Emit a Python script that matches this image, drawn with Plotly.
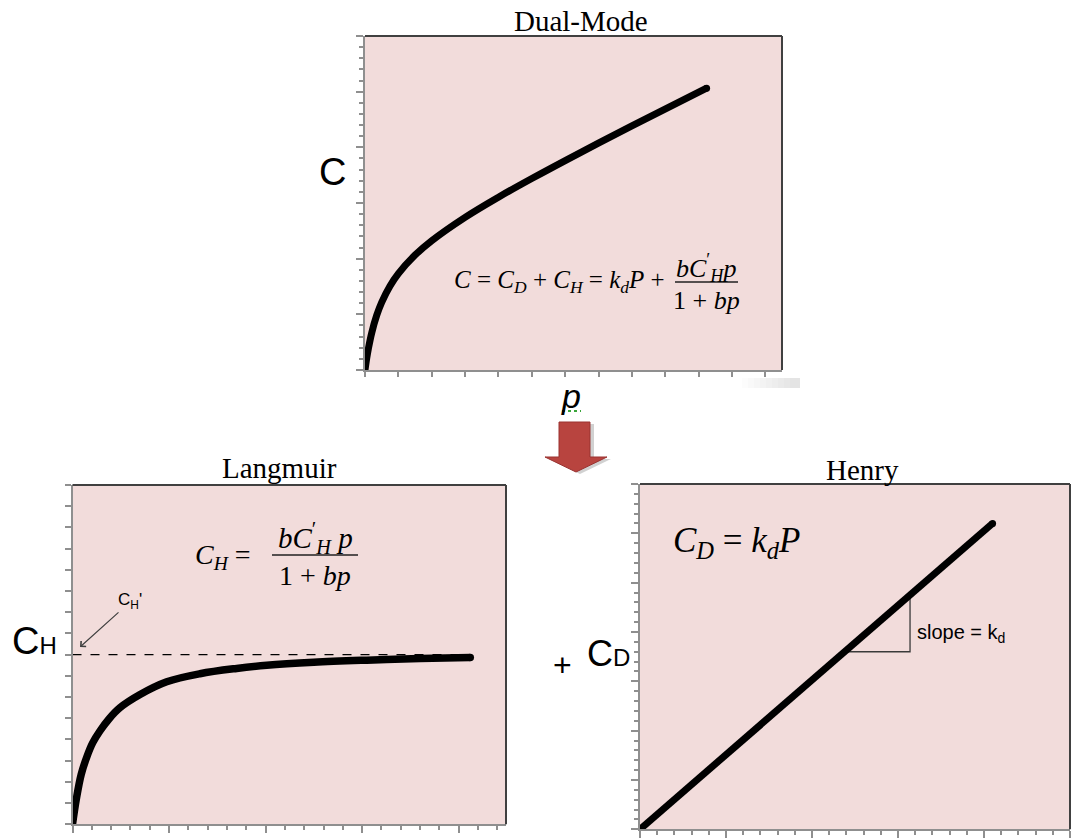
import plotly.graph_objects as go

# ---- data -------------------------------------------------------------
# Dual-mode sorption isotherm (C vs p)
dual_p = [0.0, 0.05, 0.1, 0.2, 0.35, 0.5, 0.75, 1.0, 1.5, 2.0, 3.0, 4.0, 5.0, 6.5, 8.0, 10.24]
dual_c = [0.0, 1.03, 1.9, 3.32, 4.9, 6.08, 7.55, 8.66, 10.32, 11.61, 13.71, 15.52, 17.2, 19.6, 21.92, 25.31]

# Langmuir contribution (C_H vs p) and its saturation capacity C_H'
lang_p = [0.0, 0.2, 0.45, 0.75, 1.05, 1.42, 1.9, 2.46, 3.5, 4.88, 6.6, 8.5, 10.06, 12.5, 15.24, 18.0, 20.6]
lang_c = [0.0, 1.2, 2.35, 3.2, 3.85, 4.4, 4.98, 5.5, 6.12, 6.72, 7.1, 7.35, 7.5, 7.64, 7.74, 7.82, 7.87]
ch_sat = 8.0

# Henry contribution (C_D vs p), straight line through the origin
henry_p = [0.0, 20.5]
henry_c = [0.0, 31.0]
slope_run = [11.9, 15.7]  # horizontal leg of the slope triangle

W, H = 1073, 838
BG = "#f2dcdb"
AXIS_GRAY = "#8f8f8f"
BORDER = "#404040"
SERIF = "Liberation Serif"
SANS = "Liberation Sans"


def px(x):
    return x / W


def py(y):
    return 1 - y / H


def axis(domain, rng, dtick, ticklen, anchor, minor_dtick=None, minor_len=4):
    d = dict(domain=domain, range=rng, showgrid=False, zeroline=False,
             showticklabels=False, showline=True, linecolor=AXIS_GRAY,
             linewidth=2, ticks="outside", tickcolor=AXIS_GRAY, tickwidth=1.5,
             ticklen=ticklen, tick0=0, dtick=dtick, anchor=anchor,
             fixedrange=True)
    if minor_dtick:
        d["minor"] = dict(dtick=minor_dtick, ticklen=minor_len, ticks="outside",
                          tickcolor=AXIS_GRAY, tickwidth=1.5, showgrid=False)
    return d


fig = go.Figure()

# ---- curves -----------------------------------------------------------
fig.add_trace(go.Scatter(x=dual_p, y=dual_c, mode="lines", xaxis="x", yaxis="y",
                         line=dict(color="black", width=7, shape="spline", smoothing=1.0)))
fig.add_trace(go.Scatter(x=dual_p[-1:], y=dual_c[-1:], mode="markers", xaxis="x", yaxis="y",
                         marker=dict(color="black", size=7)))

fig.add_trace(go.Scatter(x=[0, lang_p[-1]], y=[ch_sat, ch_sat], mode="lines",
                         xaxis="x2", yaxis="y2",
                         line=dict(color="black", width=1.3, dash="dash")))
fig.add_trace(go.Scatter(x=lang_p, y=lang_c, mode="lines", xaxis="x2", yaxis="y2",
                         line=dict(color="black", width=7.5, shape="spline", smoothing=1.0)))
fig.add_trace(go.Scatter(x=lang_p[-1:], y=lang_c[-1:], mode="markers", xaxis="x2", yaxis="y2",
                         marker=dict(color="black", size=7.5)))

kd = henry_c[-1] / henry_p[-1]
fig.add_trace(go.Scatter(x=[slope_run[0], slope_run[1], slope_run[1]],
                         y=[kd * slope_run[0], kd * slope_run[0], kd * slope_run[1]],
                         mode="lines", xaxis="x3", yaxis="y3",
                         line=dict(color="#3a3a3a", width=1.3)))
fig.add_trace(go.Scatter(x=henry_p, y=henry_c, mode="lines", xaxis="x3", yaxis="y3",
                         line=dict(color="black", width=7)))
fig.add_trace(go.Scatter(x=henry_p[-1:], y=henry_c[-1:], mode="markers", xaxis="x3", yaxis="y3",
                         marker=dict(color="black", size=7)))

fig.update_traces(hoverinfo="skip", showlegend=False)

# ---- axes -------------------------------------------------------------
fig.update_layout(
    xaxis=axis([px(365), px(782)], [0, 12.5], 1, 5, "y"),
    yaxis=axis([py(370), py(36)], [0, 30], 5, 7, "x", 1, 4),
    xaxis2=axis([px(72.5), px(506)], [0, 22.45], 5, 7, "y2", 1, 4),
    yaxis2=axis([py(824.3), py(485)], [0, 16], 1, 6, "x2"),
    xaxis3=axis([px(640), px(1070)], [0, 25], 5, 7, "y3", 1, 4),
    yaxis3=axis([py(829.3), py(484)], [0, 35], 5, 7, "x3", 1, 4),
)

shapes = []
# dark top/right frame of each plotting area
for xs, ys in (("x", "y"), ("x2", "y2"), ("x3", "y3")):
    for (x0, y0, x1, y1) in ((0, 1, 1, 1), (1, 1, 1, 0)):
        shapes.append(dict(type="line", xref=f"{xs} domain", yref=f"{ys} domain",
                           x0=x0, y0=y0, x1=x1, y1=y1,
                           line=dict(color=BORDER, width=2)))

# fraction bars of the equations
for (x0, x1, y) in ((675, 738, 282), (272, 358, 555)):
    shapes.append(dict(type="line", xref="paper", yref="paper",
                       x0=px(x0), x1=px(x1), y0=py(y), y1=py(y),
                       line=dict(color="#202020", width=1.3)))


def path(points):
    return "M" + " L".join(f"{px(x):.5f},{py(y):.5f}" for x, y in points) + " Z"


# block arrow between the rows (with a soft shadow)
arrow = [(559, 422), (590, 422), (590, 457), (607, 457), (576, 472), (545, 457), (559, 457)]
shadow = [(x + 4, y + 2) for x, y in arrow]
shapes.append(dict(type="path", xref="paper", yref="paper", path=path(shadow),
                   fillcolor="rgba(0,0,0,0.18)", line=dict(width=0)))
shapes.append(dict(type="path", xref="paper", yref="paper", path=path(arrow),
                   fillcolor="#b8443f", line=dict(color="#9a3331", width=1)))

# green wavy underline beneath the p label
shapes.append(dict(type="line", xref="paper", yref="paper",
                   x0=px(562), x1=px(581), y0=py(411), y1=py(411),
                   line=dict(color="#3aa53a", width=2, dash="dot")))

# faint grey smudge under the dual-mode panel, fading to the left
for i, x0 in enumerate(range(742, 796, 6)):
    shapes.append(dict(type="rect", xref="paper", yref="paper",
                       x0=px(x0), x1=px(800), y0=py(388), y1=py(378),
                       fillcolor="rgba(0,0,0,0.012)", line=dict(width=0)))

ann = []


def text(x, y, s, size, family=SERIF, xanchor="center", yanchor="middle"):
    ann.append(dict(x=px(x), y=py(y), xref="paper", yref="paper", text=s,
                    showarrow=False, xanchor=xanchor, yanchor=yanchor,
                    font=dict(family=family, size=size, color="black")))


# panel titles
text(581, 21, "Dual-Mode", 29)
text(280, 468, "Langmuir", 29)
text(862, 470, "Henry", 29)

# axis labels
text(332, 172, "C", 38, SANS)
text(571, 396, "<i>p</i>", 34, SANS)
text(34, 641, "C<span style='font-size:24px'>H</span>", 38, SANS)
text(608, 653, "C<span style='font-size:24px'>D</span>", 36, SANS)
text(562, 665, "+", 32, SANS)

# dual-mode equation
text(452, 281, "<i>C</i> = <i>C</i><sub><i>D</i></sub> + <i>C</i><sub><i>H</i></sub>"
     " = <i>k</i><sub><i>d</i></sub><i>P</i> +", 25, xanchor="left")
text(706, 268, "<i>bC</i><sup>′</sup><sub><i>H</i></sub><i>p</i>", 26)
text(706, 300, "1 + <i>bp</i>", 26)

# Langmuir equation
text(193, 556, "<i>C</i><sub><i>H</i></sub> =", 28, xanchor="left")
text(315, 538, "<i>bC</i><sup>′</sup><sub><i>H</i></sub> <i>p</i>", 29)
text(315, 575, "1 + <i>bp</i>", 28)

# Henry equation and slope label
text(671, 542, "<i>C</i><sub><i>D</i></sub> = <i>k</i><sub><i>d</i></sub><i>P</i>", 35, xanchor="left")
text(915, 633, "slope = k<sub>d</sub>", 20, SANS, xanchor="left")

# saturation capacity label with its pointer
text(130, 601, "C<sub>H</sub>'", 17, SANS)
ann.append(dict(x=px(80), y=py(647), xref="paper", yref="paper", text="",
                showarrow=True, ax=40, ay=-36, axref="pixel", ayref="pixel",
                arrowhead=4, arrowsize=1.2, arrowwidth=1.2, arrowcolor="#404040"))

fig.update_layout(
    width=W, height=H, autosize=False,
    margin=dict(l=0, r=0, t=0, b=0),
    paper_bgcolor="white", plot_bgcolor=BG,
    shapes=shapes, annotations=ann, showlegend=False,
)

fig.write_html("out.html")
